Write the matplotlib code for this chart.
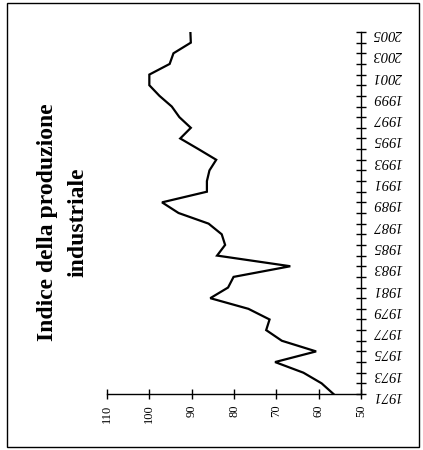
import matplotlib
matplotlib.use("Agg")
import matplotlib.pyplot as plt
from matplotlib.patches import Rectangle

years = list(range(1971, 2006))
index = [56.5, 59.3, 63.6, 70.3, 60.6, 68.7, 72.4, 71.6, 76.6, 85.6,
         81.4, 80.1, 66.7, 84.0, 82.1, 82.9, 86.0, 93.1, 97.0, 86.4,
         86.4, 85.8, 84.2, 88.4, 92.7, 90.2, 92.9, 94.7, 97.6, 100.0,
         100.0, 95.2, 94.3, 90.2, 90.3]
value_ticks = [50, 60, 70, 80, 90, 100, 110]
title = "Indice della produzione\nindustriale"

plt.rcParams["font.family"] = ["Liberation Serif", "DejaVu Serif"]

fig = plt.figure(figsize=(4.23, 4.5), dpi=100)
ax = fig.add_axes([107 / 423, 1 - 394 / 450, 254 / 423, 362 / 450])

# chart is drawn rotated: values run horizontally (reversed), years vertically
ax.plot(index, years, color="black", lw=1.6, solid_joinstyle="miter")
ax.set_xlim(110, 50)
ax.set_ylim(1971, 2005)

for s in ["top", "left"]:
    ax.spines[s].set_visible(False)
ax.spines["right"].set_linewidth(1.0)
ax.spines["bottom"].set_linewidth(1.0)

ax.yaxis.tick_right()
ax.set_yticks(years)
ax.set_yticklabels([str(y) if (y - 1971) % 2 == 0 else "" for y in years],
                   rotation=180, fontsize=10.5, style="italic")
ax.tick_params(axis="y", direction="inout", length=7, width=1, pad=5)

ax.set_xticks(value_ticks)
ax.set_xticklabels([str(v) for v in value_ticks], rotation=90, fontsize=9)
ax.tick_params(axis="x", direction="inout", length=7, width=1, pad=4)

fig.text(63 / 423, 1 - 222 / 450, title, rotation=90, ha="center", va="center",
         fontsize=17, fontweight="bold", linespacing=1.6)

fig.patches.append(Rectangle((7 / 423, 1 - 447 / 450), 412 / 423, 444 / 450,
                             transform=fig.transFigure, fill=False,
                             edgecolor="black", lw=1.0))

fig.savefig("out.png", dpi=100)
